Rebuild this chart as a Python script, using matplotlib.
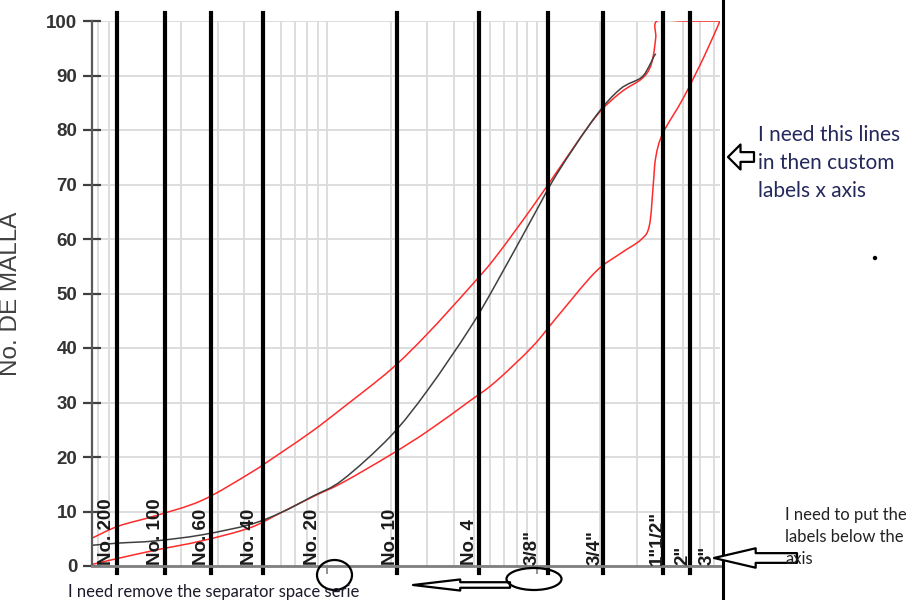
import matplotlib
matplotlib.use("Agg")
import numpy as np
import matplotlib.pyplot as plt
from matplotlib.patches import Ellipse, Circle, PathPatch
from matplotlib.path import Path

plt.rcParams['font.family'] = ['Liberation Sans', 'DejaVu Sans']

# sieve openings (mm) and the labels written on the chart
sieve_mm = [0.075, 0.15, 0.25, 0.425, 0.85, 2.0, 4.75, 9.5, 19.0, 37.5, 50.0, 75.0]
sieve_labels = ['No. 200', 'No. 100', 'No. 60', 'No. 40', 'No. 20', 'No. 10',
                'No. 4', '3/8"', '3/4"', '1"1/2"', '2"', '3"']

# gradation curve (dark line)
grad_mm = [0.075, 0.1, 0.15, 0.25, 0.425, 0.6, 0.85, 1.18, 2.0, 3.0, 4.75, 6.3,
           9.5, 12.5, 19.0, 25.0, 31.5, 34.5, 36.0, 37.0]
grad_pct = [3.8, 4.2, 4.6, 5.7, 7.6, 9.8, 12.8, 15.8, 23.8, 32.2, 43.4, 51.4,
            63.8, 72.0, 82.4, 87.5, 89.6, 91.8, 93.3, 94.0]

# upper limit (red)
upper_mm = [0.075, 0.1, 0.15, 0.25, 0.425, 0.6, 0.85, 1.18, 2.0, 3.0, 4.75, 6.3,
            9.5, 12.5, 19.0, 25.0, 31.5, 34.5, 36.0, 37.0, 37.5, 50.0, 63.0, 75.0]
upper_pct = [5.1, 7.3, 9.2, 12.0, 17.0, 20.8, 24.8, 29.0, 36.0, 42.6, 51.0, 56.5,
             65.8, 72.4, 82.3, 86.8, 89.3, 91.2, 93.6, 97.0, 100, 100, 100, 100]

# lower limit (red)
lower_mm = [0.075, 0.1, 0.15, 0.25, 0.425, 0.6, 0.85, 1.18, 2.0, 3.0, 4.75, 6.3,
            9.5, 12.5, 19.0, 25.0, 31.5, 34.5, 36.0, 37.0, 40.0, 50.0, 63.0, 75.0]
lower_pct = [0.3, 1.4, 2.9, 4.6, 7.0, 9.8, 12.7, 15.3, 20.4, 24.7, 30.2, 33.7,
             40.2, 45.7, 53.9, 57.3, 59.9, 62.5, 70.0, 75.0, 79.4, 85.8, 93.5, 100.0]

# hand drawn vertical lines (mm)
hand_mm = [0.0987, 0.1675, 0.278, 0.492, 2.15, 5.30, 11.3, 20.7, 40.1, 54.0]
border_mm = 77.6


def smooth_path(xs, ys):
    # smoothed line like the spreadsheet one: bezier through the points (log x)
    pts = np.column_stack([np.log10(xs), np.asarray(ys, float)])
    n = len(pts)
    verts = [pts[0]]
    codes = [Path.MOVETO]
    for i in range(n - 1):
        p0 = pts[i - 1] if i > 0 else pts[i]
        p1, p2 = pts[i], pts[i + 1]
        p3 = pts[i + 2] if i + 2 < n else pts[i + 1]
        verts += [p1 + (p2 - p0) / 6, p2 - (p3 - p1) / 6, p2]
        codes += [Path.CURVE4] * 3
    verts = np.array(verts)
    verts[:, 0] = 10 ** verts[:, 0]
    return Path(verts, codes)


fig = plt.figure(figsize=(9.15, 6.0), dpi=100)
ax = fig.add_axes([92 / 915, 34 / 600, 628 / 915, 545 / 600])

ax.set_xscale('log')
ax.set_xlim(0.075, 75)
ax.set_ylim(0, 100)
ax.set_yticks(range(0, 101, 10))
ax.set_xticks([0.1, 1, 10])
ax.set_xticklabels([])
ax.xaxis.set_minor_formatter(plt.NullFormatter())

ax.grid(True, which='both', axis='x', color='#dadada', lw=1.3)
ax.grid(True, which='major', axis='y', color='#dadada', lw=1.3)
ax.set_axisbelow(True)

for s in ['top', 'right']:
    ax.spines[s].set_visible(False)
ax.spines['left'].set_color('#595959')
ax.spines['left'].set_linewidth(1.6)
ax.spines['bottom'].set_color('#7f7f7f')
ax.spines['bottom'].set_linewidth(2)

ax.tick_params(axis='y', direction='inout', length=13, width=1.6, color='#404040',
               labelsize=13.5, labelcolor='#333333', pad=4)
ax.tick_params(axis='x', which='major', direction='out', length=6, width=1.2, color='#7f7f7f')
ax.tick_params(axis='x', which='minor', length=0)
for t in ax.get_yticklabels():
    t.set_fontweight('bold')

ax.set_ylabel('No. DE MALLA', fontsize=17.5, color='#404040')
ax.yaxis.set_label_coords(-0.112, 0.5)

ax.add_patch(PathPatch(smooth_path(upper_mm, upper_pct), fill=False, ec='#ff2b2b', lw=1.1))
ax.add_patch(PathPatch(smooth_path(lower_mm, lower_pct), fill=False, ec='#ff2b2b', lw=1.1))
ax.add_patch(PathPatch(smooth_path(grad_mm, grad_pct), fill=False, ec='#404040', lw=1.1))

for i, (x, lab) in enumerate(zip(sieve_mm, sieve_labels)):
    ha, dx = 'center', 0
    if i == 0:
        ha, dx = 'left', 4
    elif i == len(sieve_mm) - 1:
        ha, dx = 'right', -3
    ax.annotate(lab, (x, 0), xytext=(dx, 1), textcoords='offset points',
                rotation=90, ha=ha, va='bottom', fontsize=13.5,
                fontweight='bold', color='#1a1a1a')

for x in hand_mm:
    ax.axvline(x, ymin=-0.012, ymax=1.015, color='black', lw=3, clip_on=False)
ax.axvline(border_mm, ymin=-0.065, ymax=1.04, color='black', lw=2.2, clip_on=False)

# annotations
fig.text(758 / 915, 1 - 125 / 600, 'I need this lines\nin then custom\nlabels x axis',
         family=['Lato', 'DejaVu Sans'], fontsize=15, color='#24285a', va='top',
         linespacing=1.5)
fig.text(785 / 915, 1 - 507 / 600, 'I need to put the\nlabels below the\naxis',
         family=['Lato', 'DejaVu Sans'], fontsize=12, color='#222222', va='top',
         linespacing=1.45)
fig.text(68 / 915, 1 - 592 / 600, 'I need remove the separator space serie',
         family=['Lato', 'DejaVu Sans'], fontsize=12, color='#1a1a2a', va='center')

arrow = dict(fc='white', ec='black', lw=1.6, shrinkA=0, shrinkB=0, mutation_scale=1)
ax.annotate('', xy=(728, 443), xytext=(754, 443), xycoords='figure pixels',
            textcoords='figure pixels',
            arrowprops=dict(arrowstyle='simple,head_length=9,head_width=18,tail_width=7', **arrow))
ax.annotate('', xy=(714, 42), xytext=(797, 42), xycoords='figure pixels',
            textcoords='figure pixels',
            arrowprops=dict(arrowstyle='simple,head_length=30,head_width=14,tail_width=7', **arrow))
ax.annotate('', xy=(413, 15), xytext=(510, 15), xycoords='figure pixels',
            textcoords='figure pixels',
            arrowprops=dict(arrowstyle='simple,head_length=34,head_width=8,tail_width=4', **arrow))

fig.add_artist(Ellipse((3.345, 0.25), 0.35, 0.30, transform=fig.dpi_scale_trans,
                       fill=False, ec='black', lw=1.6))
fig.add_artist(Ellipse((5.34, 0.21), 0.55, 0.22, transform=fig.dpi_scale_trans,
                       fill=False, ec='black', lw=1.6))
fig.add_artist(Circle((8.75, 3.42), 0.022, transform=fig.dpi_scale_trans,
                      fc='black', ec='none'))

fig.savefig('out.png', dpi=100)
